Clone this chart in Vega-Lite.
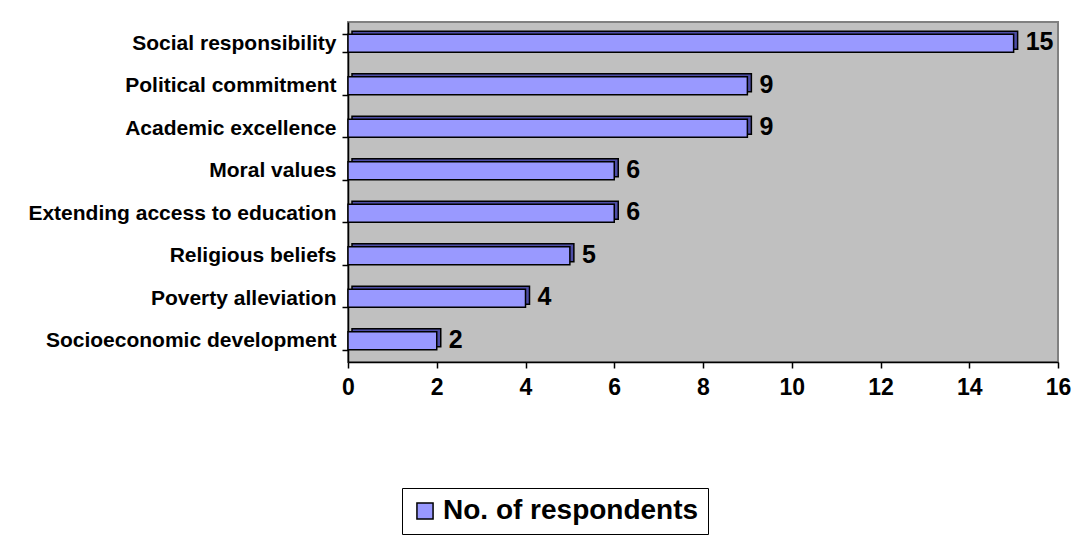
{
  "$schema": "https://vega.github.io/schema/vega-lite/v6.json",
  "width": 710,
  "height": 340,
  "autosize": {"type": "none"},
  "padding": {"left": 348, "top": 22, "right": 18, "bottom": 174},
  "background": "white",
  "config": {
    "font": "Liberation Sans",
    "view": {"fill": "#C0C0C0", "stroke": "#808080", "strokeWidth": 2}
  },
  "data": {
    "values": [
      {"category": "Social responsibility", "value": 15, "series": "No. of respondents"},
      {"category": "Political commitment ", "value": 9, "series": "No. of respondents"},
      {"category": "Academic excellence", "value": 9, "series": "No. of respondents"},
      {"category": "Moral values", "value": 6, "series": "No. of respondents"},
      {"category": "Extending access to education", "value": 6, "series": "No. of respondents"},
      {"category": "Religious beliefs", "value": 5, "series": "No. of respondents"},
      {"category": "Poverty alleviation", "value": 4, "series": "No. of respondents"},
      {"category": "Socioeconomic development", "value": 2, "series": "No. of respondents"}
    ]
  },
  "encoding": {
    "y": {
      "field": "category",
      "type": "nominal",
      "sort": null,
      "scale": {"paddingInner": 0.58, "paddingOuter": 0.29},
      "axis": {
        "title": null,
        "labelFont": "Liberation Sans",
        "labelFontWeight": "bold",
        "labelFontSize": 21,
        "labelColor": "black",
        "labelLimit": 400,
        "labelPadding": 6,
        "domainColor": "black",
        "domainWidth": 1.5,
        "tickColor": "black",
        "tickWidth": 1.5,
        "tickSize": 6,
        "tickBand": "extent"
      }
    },
    "x": {
      "field": "value",
      "type": "quantitative",
      "scale": {"domain": [0, 16], "nice": false},
      "axis": {
        "title": null,
        "values": [0, 2, 4, 6, 8, 10, 12, 14, 16],
        "grid": false,
        "labelFlush": false,
        "labelOverlap": false,
        "labelFont": "Liberation Sans",
        "labelFontWeight": "bold",
        "labelFontSize": 23,
        "labelColor": "black",
        "labelPadding": 8,
        "domainColor": "black",
        "domainWidth": 1.5,
        "tickColor": "black",
        "tickWidth": 1.5,
        "tickSize": 6
      }
    }
  },
  "layer": [
    {
      "mark": {"type": "bar", "fill": "#4D4DA6", "stroke": "black", "strokeWidth": 1.5, "xOffset": 4, "yOffset": -3}
    },
    {
      "mark": {"type": "bar", "stroke": "black", "strokeWidth": 1.5, "cornerRadius": 0},
      "encoding": {
        "fill": {
          "field": "series",
          "type": "nominal",
          "scale": {"range": ["#9999FF"]},
          "legend": {
            "title": null,
            "orient": "none",
            "legendX": 54,
            "legendY": 466,
            "direction": "vertical",
            "symbolType": "square",
            "symbolSize": 260,
            "symbolStrokeColor": "black",
            "symbolStrokeWidth": 1.5,
            "symbolOpacity": 1,
            "labelFont": "Liberation Sans",
            "labelFontWeight": "bold",
            "labelFontSize": 28,
            "labelColor": "black",
            "labelLimit": 400,
            "labelOffset": 4,
            "strokeColor": "black",
            "padding": 9,
            "fillColor": "white"
          }
        }
      }
    },
    {
      "mark": {"type": "text", "align": "left", "baseline": "middle", "dx": 12, "dy": -1, "fontSize": 25, "fontWeight": "bold", "color": "black", "font": "Liberation Sans"},
      "encoding": {"text": {"field": "value", "type": "quantitative"}}
    }
  ]
}
